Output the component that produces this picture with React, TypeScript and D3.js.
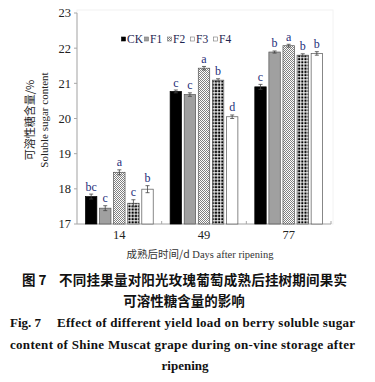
import React from "react";
import * as d3 from "d3";

const days = ["14", "49", "77"];
const series = ["CK", "F1", "F2", "F3", "F4"];
const values = [
  [17.78, 17.45, 18.47, 17.59, 17.99],
  [20.77, 20.68, 21.43, 21.09, 20.05],
  [20.9, 21.89, 22.07, 21.8, 21.85],
];
const errors = [
  [0.07, 0.07, 0.07, 0.1, 0.1],
  [0.04, 0.05, 0.05, 0.04, 0.05],
  [0.07, 0.03, 0.04, 0.04, 0.05],
];
const letters = [
  ["bc", "c", "a", "c", "b"],
  ["c", "c", "a", "b", "d"],
  ["c", "b", "a", "b", "b"],
];
const yTicks = [17, 18, 19, 20, 21, 22, 23];

const fills = ["#000", "#a0a0a0", "url(#pF2)", "url(#pF3)", "#fff"];
const legendFills = ["#000", "#a0a0a0", "url(#pF2)", "#fff", "#fff"];

export default function App() {
  const W = 375, H = 382;
  const x0 = d3.scaleBand().domain(days).range([77, 331]).paddingInner(0).paddingOuter(0);
  const x1 = d3.scaleBand().domain(series).range([0, x0.bandwidth()]).paddingInner(0.19).paddingOuter(0.6);
  const y = d3.scaleLinear().domain([17, 23]).range([224, 13]);
  const serif = "'Liberation Serif', 'Times New Roman', serif";
  const cjk = "'Noto Sans CJK SC', sans-serif";
  const letterColor = "#1f2f7a";

  return (
    <svg width={W} height={H} style={{ position: "absolute", left: 0, top: 0, background: "#fff" }}>
      <defs>
        <pattern id="pF2" width="2" height="2" patternUnits="userSpaceOnUse">
          <rect width="2" height="2" fill="#fff" />
          <rect width="1" height="1" fill="#808080" />
          <rect x="1" y="1" width="1" height="1" fill="#808080" />
        </pattern>
        <pattern id="pF3" width="3.2" height="3.2" patternUnits="userSpaceOnUse">
          <rect width="3.2" height="3.2" fill="#fff" />
          <rect x="0.4" y="0.4" width="2.2" height="2.2" fill="#000" />
        </pattern>
      </defs>
      <rect x={0} y={0} width={W} height={H} fill="#fff" />
      <rect x={77} y={10} width={256} height={214} fill="none" stroke="#f2f2f2" />

      {/* y axis */}
      <line x1={77} x2={77} y1={y(23)} y2={y(17)} stroke="#a8a8a8" strokeWidth={1} />
      {yTicks.map((t) => (
        <g key={t}>
          <line x1={74} x2={77} y1={y(t)} y2={y(t)} stroke="#a8a8a8" />
          <text x={71} y={y(t)} dy="0.35em" textAnchor="end" fontFamily={serif} fontSize={12.5} fill="#222">
            {t}
          </text>
        </g>
      ))}
      {/* x axis */}
      <line x1={77} x2={331} y1={224} y2={224} stroke="#a8a8a8" />
      {days.map((d) => (
        <g key={d}>
          <line x1={(x0(d) as number) + x0.bandwidth()} x2={(x0(d) as number) + x0.bandwidth()} y1={224} y2={221} stroke="#a8a8a8" />
          <text x={(x0(d) as number) + x0.bandwidth() / 2} y={238.5} textAnchor="middle" fontFamily={serif} fontSize={12.5} fill="#222">
            {d}
          </text>
        </g>
      ))}

      {/* bars */}
      {days.map((d, i) =>
        series.map((s, j) => {
          const bx = (x0(d) as number) + (x1(s) as number);
          const bw = x1.bandwidth();
          const v = values[i][j];
          const e = errors[i][j];
          const cx = bx + bw / 2;
          return (
            <g key={d + s}>
              <rect x={bx} y={y(v)} width={bw} height={224 - y(v)} fill={fills[j]} stroke={j === 0 ? "#000" : "#555"} strokeWidth={0.7} />
              <line x1={cx} x2={cx} y1={y(v + e)} y2={y(v - e)} stroke="#444" strokeWidth={0.8} />
              <line x1={cx - 2} x2={cx + 2} y1={y(v + e)} y2={y(v + e)} stroke="#444" strokeWidth={0.8} />
              <line x1={cx - 2} x2={cx + 2} y1={y(v - e)} y2={y(v - e)} stroke="#444" strokeWidth={0.8} />
              <text x={cx} y={y(v + e) - 3.5} textAnchor="middle" fontFamily={serif} fontSize={12} fill={letterColor}>
                {letters[i][j]}
              </text>
            </g>
          );
        })
      )}

      {/* legend */}
      {series.map((s, j) => {
        const lx = 121.5 + j * 23;
        return (
          <g key={s}>
            <rect x={lx} y={37} width={4} height={4} fill={legendFills[j]} stroke={j === 0 ? "#000" : "#777"} strokeWidth={0.6} />
            <text x={lx + 5.5} y={42.5} fontFamily={serif} fontSize={11.5} fill="#1c2450">
              {s}
            </text>
          </g>
        );
      })}

      {/* y title */}
      <text transform="translate(34,120) rotate(-90)" textAnchor="middle" fontFamily={cjk} fontSize={11} fill="#222">
        可溶性糖含量/%
      </text>
      <text transform="translate(48,120) rotate(-90)" textAnchor="middle" fontFamily={serif} fontSize={11} fill="#222">
        Soluble sugar content
      </text>

      {/* x title */}
      <text x={200} y={258} textAnchor="middle" fontSize={10.5} fill="#333">
        <tspan fontFamily={cjk}>成熟后时间/d</tspan>
        <tspan fontFamily={serif}> Days after ripening</tspan>
      </text>

      {/* caption */}
      <text x={22} y={285} fontFamily={cjk} fontWeight={700} fontSize={13.5} fill="#111">
        图 7
      </text>
      <text x={59} y={285} fontFamily={cjk} fontWeight={700} fontSize={13.5} fill="#111" textLength={288} lengthAdjust="spacing">
        不同挂果量对阳光玫瑰葡萄成熟后挂树期间果实
      </text>
      <text x={184} y={306} textAnchor="middle" fontFamily={cjk} fontWeight={700} fontSize={13.5} fill="#111">
        可溶性糖含量的影响
      </text>
      <text x={10} y={327} fontFamily={serif} fontWeight={700} fontSize={13} fill="#111">
        Fig. 7
      </text>
      <text x={57} y={327} fontFamily={serif} fontWeight={700} fontSize={13} fill="#111" textLength={298} lengthAdjust="spacing">
        Effect of different yield load on berry soluble sugar
      </text>
      <text x={10} y={348.5} fontFamily={serif} fontWeight={700} fontSize={13} fill="#111" textLength={345} lengthAdjust="spacing">
        content of Shine Muscat grape during on-vine storage after
      </text>
      <text x={185} y={370} textAnchor="middle" fontFamily={serif} fontWeight={700} fontSize={13} fill="#111">
        ripening
      </text>
    </svg>
  );
}
